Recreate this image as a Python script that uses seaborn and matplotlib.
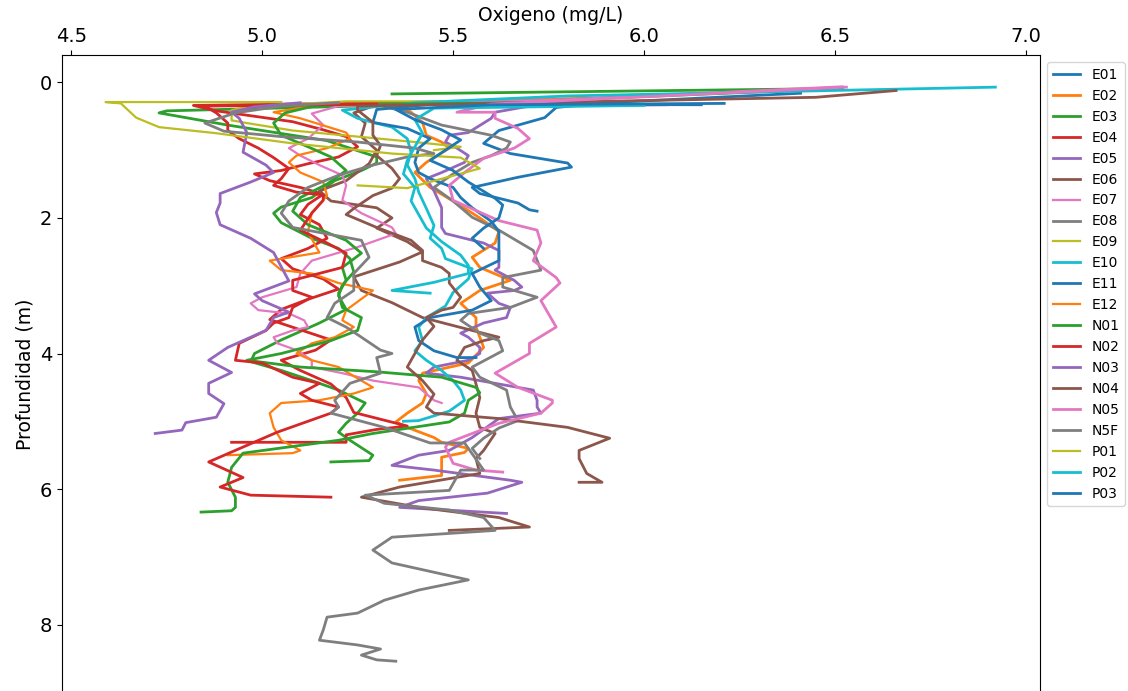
import matplotlib
matplotlib.use("Agg")
import matplotlib.pyplot as plt
import seaborn as sns

# ---------------------------------------------------------------------------
# Perfiles de oxigeno disuelto (mg/L) vs profundidad (m)
# ---------------------------------------------------------------------------

stations = ["E01", "E02", "E03", "E04", "E05", "E06", "E07", "E08", "E09", "E10",
            "E11", "E12", "N01", "N02", "N03", "N04", "N05", "N5F", "P01", "P02", "P03"]

e01_z = [0.16, 0.30, 0.37, 0.52, 0.71, 0.90, 1.05, 1.19, 1.25, 1.40, 1.55, 1.64, 1.78, 1.88, 1.90]
e01_ox = [6.41, 5.90, 5.77, 5.74, 5.62, 5.58, 5.65, 5.80, 5.81, 5.67, 5.55, 5.57, 5.67, 5.70, 5.72]

e02_z = [0.22, 0.30, 0.44, 0.59, 0.78, 0.88, 0.97, 1.18, 1.33, 1.55, 1.75, 2.00, 2.20, 2.37, 2.58,
         2.73, 2.92, 3.07, 3.26, 3.47, 3.61, 3.91, 4.14, 4.29, 4.40, 4.59, 4.73, 4.88, 5.01, 5.09,
         5.24, 5.31, 5.40, 5.46, 5.53, 5.69, 5.80, 5.87]
e02_ox = [5.95, 5.35, 5.39, 5.42, 5.43, 5.47, 5.49, 5.43, 5.40, 5.44, 5.50, 5.57, 5.62, 5.61, 5.55,
          5.57, 5.65, 5.57, 5.52, 5.56, 5.56, 5.58, 5.54, 5.42, 5.41, 5.43, 5.42, 5.38, 5.35, 5.38,
          5.45, 5.47, 5.54, 5.53, 5.47, 5.47, 5.47, 5.36]

e03_z = [0.17, 0.09, 0.30, 0.42, 0.45, 0.63, 0.86, 1.10, 1.19, 1.30, 1.45, 1.70, 1.84, 1.93, 2.07,
         2.30, 2.45, 2.60, 2.80, 2.99, 3.15, 3.35, 3.55, 3.80, 4.00, 4.12, 4.25, 4.40, 4.54, 4.73,
         4.88, 5.03, 5.16, 5.28, 5.50, 5.58, 5.60]
e03_ox = [5.34, 6.52, 5.60, 4.75, 4.73, 4.91, 5.17, 5.30, 5.30, 5.26, 5.19, 5.13, 5.05, 5.03, 5.05,
          5.13, 5.20, 5.23, 5.24, 5.21, 5.20, 5.22, 5.15, 5.05, 4.98, 4.97, 5.05, 5.13, 5.20, 5.27,
          5.25, 5.22, 5.20, 5.23, 5.29, 5.28, 5.18]

e04_z = [0.28, 0.34, 0.42, 0.50, 0.58, 0.70, 0.80, 0.95, 1.10, 1.20, 1.30, 1.35, 1.45, 1.55, 1.65,
         1.80, 1.95, 2.10, 2.30, 2.45, 2.60, 2.75, 2.90, 3.05, 3.20, 3.35, 3.50, 3.65, 3.80, 3.95,
         4.10, 4.25, 4.45, 4.65, 4.87, 5.07, 5.12, 5.20, 5.31, 5.31]
e04_ox = [5.58, 4.82, 4.88, 4.98, 5.08, 5.16, 5.22, 5.25, 5.20, 5.12, 5.05, 4.98, 5.02, 5.10, 5.16,
          5.12, 5.10, 5.15, 5.17, 5.12, 5.05, 5.08, 5.16, 5.20, 5.12, 5.05, 5.02, 5.10, 5.18, 5.14,
          5.05, 5.10, 5.18, 5.22, 5.24, 5.38, 5.30, 5.22, 5.22, 4.92]

e05_z = [0.33, 0.35, 0.44, 0.53, 0.74, 0.78, 0.88, 0.97, 1.08, 1.18, 1.33, 1.42, 1.60, 1.85, 2.14,
         2.23, 2.37, 2.48, 2.73, 2.77, 2.92, 3.02, 3.07, 3.11, 3.26, 3.32, 3.47, 3.55, 3.70, 3.76,
         3.91, 4.00, 4.10, 4.20, 4.29, 4.35, 4.54, 4.69, 4.79, 4.88, 4.96, 5.24, 5.43, 5.50, 5.65,
         5.72, 5.87, 5.90, 6.06, 6.17, 6.27, 6.36]
e05_ox = [6.06, 5.70, 5.61, 5.60, 5.54, 5.49, 5.48, 5.51, 5.54, 5.53, 5.47, 5.43, 5.45, 5.47, 5.47,
          5.48, 5.58, 5.62, 5.62, 5.61, 5.66, 5.68, 5.66, 5.59, 5.62, 5.65, 5.64, 5.58, 5.52, 5.54,
          5.57, 5.57, 5.54, 5.45, 5.43, 5.52, 5.71, 5.72, 5.72, 5.73, 5.62, 5.55, 5.49, 5.41, 5.34,
          5.45, 5.65, 5.68, 5.59, 5.41, 5.36, 5.64]

e06_z = [0.30, 0.33, 0.45, 0.60, 0.80, 1.00, 1.20, 1.45, 1.60, 1.75, 1.85, 2.00, 2.15, 2.35, 2.50,
         2.65, 2.87, 3.07, 3.25, 3.47, 3.66, 3.76, 3.81, 3.91, 4.10, 4.25, 4.45, 4.65, 4.88, 5.09,
         5.18, 5.43, 5.55, 5.77, 5.97, 6.12, 6.27, 6.42, 6.56, 6.61]
e06_ox = [5.60, 5.30, 5.24, 5.27, 5.26, 5.30, 5.28, 5.22, 5.15, 5.18, 5.30, 5.34, 5.30, 5.38, 5.42,
          5.36, 5.24, 5.26, 5.34, 5.42, 5.55, 5.62, 5.58, 5.53, 5.51, 5.55, 5.56, 5.57, 5.56, 5.57,
          5.61, 5.58, 5.56, 5.57, 5.36, 5.26, 5.41, 5.62, 5.70, 5.49]

e07_z = [0.06, 0.25, 0.35, 0.46, 0.63, 0.83, 0.97, 1.08, 1.22, 1.37, 1.52, 1.74, 1.93, 2.14, 2.23,
         2.33, 2.43, 2.63, 2.82, 3.02, 3.17, 3.26, 3.36, 3.41, 3.51, 3.61, 3.66, 3.76, 3.85, 3.95,
         4.10, 4.20, 4.29, 4.40, 4.50, 4.69, 4.73]
e07_ox = [6.52, 5.80, 5.20, 5.13, 5.16, 5.12, 5.07, 5.10, 5.15, 5.21, 5.22, 5.21, 5.26, 5.34, 5.35,
          5.30, 5.25, 5.13, 5.10, 5.09, 5.00, 4.97, 4.99, 5.07, 5.11, 5.12, 5.08, 5.03, 5.04, 5.09,
          5.13, 5.13, 5.21, 5.29, 5.41, 5.45, 5.47]

e08_z = [0.30, 0.33, 0.44, 0.63, 0.78, 0.88, 0.97, 1.08, 1.18, 1.35, 1.55, 1.75, 1.99, 2.18, 2.48,
         2.77, 2.88, 3.02, 3.17, 3.32, 3.41, 3.51, 3.70, 3.81, 3.96, 4.20, 4.35, 4.54, 4.79, 4.99,
         5.10, 5.25, 5.40, 5.55]
e08_ox = [5.70, 5.30, 5.38, 5.47, 5.60, 5.65, 5.64, 5.60, 5.55, 5.50, 5.45, 5.50, 5.55, 5.62, 5.71,
          5.73, 5.63, 5.63, 5.72, 5.65, 5.54, 5.52, 5.57, 5.62, 5.63, 5.55, 5.57, 5.64, 5.65, 5.67,
          5.62, 5.58, 5.55, 5.57]

e09_z = [0.28, 0.28, 0.36, 0.41, 0.56, 0.60, 0.71, 0.80, 0.88, 0.95, 1.00]
e09_ox = [5.50, 5.22, 4.96, 4.92, 4.92, 4.96, 5.08, 5.25, 5.40, 5.52, 5.45]

e10_z = [0.07, 0.20, 0.30, 0.41, 0.53, 0.59, 0.66, 0.83, 1.03, 1.22, 1.42, 1.62, 1.86, 2.11, 2.30,
         2.45, 2.60, 2.75, 2.90, 3.10, 3.30, 3.47, 3.61, 3.81, 3.96, 4.10, 4.25, 4.40, 4.54, 4.69,
         4.85, 4.99, 5.00]
e10_ox = [6.92, 5.80, 5.40, 5.21, 5.25, 5.29, 5.34, 5.38, 5.39, 5.38, 5.40, 5.41, 5.43, 5.45, 5.44,
          5.47, 5.48, 5.55, 5.54, 5.50, 5.48, 5.43, 5.41, 5.42, 5.40, 5.43, 5.47, 5.50, 5.52, 5.53,
          5.49, 5.41, 5.37]

e11_z = [0.33, 0.32, 0.40, 0.59, 0.68, 0.83, 0.97, 1.18, 1.33, 1.42, 1.55, 1.70, 1.85, 2.05, 2.20,
         2.37, 2.63, 2.82, 3.02, 3.22, 3.36, 3.47, 3.61, 3.81, 3.96, 4.06, 4.06]
e11_ox = [6.15, 5.45, 5.30, 5.29, 5.38, 5.44, 5.41, 5.40, 5.41, 5.44, 5.50, 5.52, 5.55, 5.60, 5.62,
          5.62, 5.62, 5.55, 5.57, 5.60, 5.55, 5.44, 5.40, 5.41, 5.45, 5.51, 5.56]

e12_z = [0.33, 0.44, 0.53, 0.74, 0.83, 0.97, 1.08, 1.18, 1.33, 1.47, 1.67, 1.92, 2.21, 2.51, 2.63,
         2.77, 2.82, 2.96, 3.07, 3.36, 3.51, 3.61, 3.76, 3.85, 4.00, 4.10, 4.20, 4.50, 4.59, 4.69,
         4.73, 4.88, 5.09, 5.28, 5.43, 5.47, 5.50]
e12_ox = [5.15, 5.03, 5.10, 5.22, 5.23, 5.17, 5.09, 5.07, 5.10, 5.16, 5.17, 5.13, 5.12, 5.15, 5.02,
          5.05, 5.13, 5.20, 5.29, 5.22, 5.21, 5.24, 5.19, 5.13, 5.09, 5.13, 5.20, 5.29, 5.24, 5.15,
          5.05, 5.02, 5.03, 5.05, 5.10, 5.08, 4.91]

n01_z = [0.30, 0.33, 0.45, 0.60, 0.78, 0.95, 1.10, 1.30, 1.50, 1.70, 1.90, 2.10, 2.33, 2.52, 2.73,
         2.92, 3.11, 3.32, 3.47, 3.66, 3.81, 4.00, 4.10, 4.20, 4.27, 4.35, 4.50, 4.58, 4.69, 4.88,
         5.01, 5.18, 5.28, 5.47, 5.68, 5.90, 6.12, 6.27, 6.32, 6.34]
n01_ox = [5.72, 5.15, 5.06, 5.03, 5.05, 5.12, 5.18, 5.22, 5.17, 5.10, 5.08, 5.12, 5.22, 5.26, 5.21,
          5.22, 5.20, 5.21, 5.26, 5.25, 5.18, 5.05, 4.96, 5.10, 5.30, 5.47, 5.56, 5.57, 5.54, 5.53,
          5.49, 5.29, 5.20, 4.95, 4.92, 4.91, 4.93, 4.93, 4.92, 4.84]

n02_z = [0.32, 0.35, 0.45, 0.60, 0.71, 0.83, 0.97, 1.11, 1.27, 1.42, 1.52, 1.62, 1.66, 1.74, 1.93,
         2.18, 2.37, 2.52, 2.73, 2.92, 3.07, 3.17, 3.32, 3.47, 3.55, 3.66, 3.85, 4.10, 4.14, 4.35,
         4.44, 4.59, 4.69, 4.79, 4.88, 5.16, 5.60, 5.83, 5.97, 6.09, 6.12]
n02_ox = [5.30, 4.85, 4.88, 4.91, 4.91, 4.94, 4.99, 5.03, 5.07, 5.05, 5.03, 5.09, 5.16, 5.16, 5.13,
          5.10, 5.17, 5.22, 5.21, 5.08, 5.08, 5.13, 5.08, 5.07, 5.03, 5.01, 4.94, 4.93, 5.00, 5.08,
          5.15, 5.10, 5.13, 5.20, 5.18, 5.04, 4.86, 4.95, 4.89, 4.97, 5.18]

n03_z = [0.30, 0.36, 0.44, 0.53, 0.74, 1.03, 1.22, 1.33, 1.47, 1.64, 1.78, 1.92, 2.10, 2.30, 2.51,
         2.93, 3.12, 3.22, 3.39, 3.47, 3.66, 3.91, 4.10, 4.28, 4.44, 4.59, 4.74, 4.94, 5.02, 5.13,
         5.18]
n03_ox = [5.10, 4.98, 4.92, 4.94, 4.96, 4.95, 5.01, 5.03, 4.97, 4.89, 4.89, 4.88, 4.89, 4.97, 5.03,
          5.07, 4.98, 5.00, 5.07, 5.03, 5.01, 4.91, 4.86, 4.92, 4.86, 4.86, 4.90, 4.88, 4.80, 4.79,
          4.72]

n04_z = [0.12, 0.22, 0.30, 0.35, 0.41, 0.59, 0.78, 0.93, 1.08, 1.27, 1.42, 1.56, 1.67, 1.86, 1.95,
         2.14, 2.33, 2.48, 2.63, 2.73, 2.82, 2.96, 3.17, 3.32, 3.36, 3.47, 3.60, 3.80, 4.00, 4.20,
         4.40, 4.60, 4.79, 4.88, 4.96, 5.09, 5.25, 5.43, 5.55, 5.77, 5.90, 5.90]
n04_ox = [6.66, 6.45, 5.70, 5.25, 5.25, 5.29, 5.29, 5.31, 5.30, 5.34, 5.36, 5.34, 5.29, 5.24, 5.22,
          5.30, 5.39, 5.42, 5.42, 5.47, 5.49, 5.49, 5.52, 5.50, 5.47, 5.43, 5.45, 5.42, 5.40, 5.38,
          5.42, 5.45, 5.43, 5.45, 5.62, 5.80, 5.91, 5.83, 5.83, 5.85, 5.89, 5.83]

n05_z = [0.07, 0.32, 0.44, 0.44, 0.53, 0.68, 0.83, 0.97, 1.12, 1.33, 1.52, 1.74, 2.04, 2.18, 2.37,
         2.63, 2.88, 2.96, 3.22, 3.61, 3.85, 4.00, 4.29, 4.50, 4.69, 4.73, 4.88, 5.03, 5.18, 5.31,
         5.38, 5.62, 5.72, 5.75]
n05_ox = [6.53, 5.60, 5.51, 5.61, 5.61, 5.67, 5.70, 5.66, 5.58, 5.53, 5.49, 5.50, 5.62, 5.72, 5.73,
          5.71, 5.77, 5.78, 5.73, 5.77, 5.70, 5.70, 5.61, 5.67, 5.76, 5.76, 5.73, 5.62, 5.55, 5.49,
          5.48, 5.50, 5.56, 5.63]

n5f_z = [0.30, 0.35, 0.45, 0.60, 0.72, 0.80, 0.88, 0.97, 1.05, 1.10, 1.22, 1.37, 1.55, 1.75, 1.93,
         2.14, 2.33, 2.58, 2.82, 3.07, 3.26, 3.47, 3.61, 3.76, 3.95, 4.00, 4.06, 4.29, 4.44, 4.69,
         4.79, 4.88, 5.09, 5.32, 5.32, 5.72, 5.72, 6.02, 6.09, 6.21, 6.31, 6.42, 6.61, 6.71, 6.90,
         7.09, 7.34, 7.49, 7.64, 7.83, 7.89, 8.08, 8.23, 8.30, 8.36, 8.45, 8.52, 8.54]
n5f_ox = [5.20, 5.05, 4.93, 4.85, 4.90, 5.05, 5.25, 5.40, 5.45, 5.38, 5.29, 5.20, 5.12, 5.07, 5.05,
          5.08, 5.26, 5.28, 5.24, 5.24, 5.19, 5.17, 5.22, 5.26, 5.31, 5.34, 5.30, 5.31, 5.23, 5.19,
          5.20, 5.18, 5.32, 5.44, 5.53, 5.58, 5.52, 5.49, 5.27, 5.32, 5.49, 5.58, 5.61, 5.34, 5.29,
          5.34, 5.54, 5.41, 5.32, 5.25, 5.17, 5.16, 5.15, 5.25, 5.31, 5.26, 5.30, 5.35]

p01_z = [0.29, 0.29, 0.31, 0.52, 0.66, 0.75, 0.90, 1.05, 1.11, 1.27, 1.56, 1.52]
p01_ox = [5.05, 4.59, 4.63, 4.67, 4.73, 4.88, 5.08, 5.34, 5.52, 5.57, 5.38, 5.25]

p02_z = [0.34, 0.38, 0.55, 0.75, 0.95, 1.15, 1.35, 1.55, 1.75, 1.95, 2.15, 2.35, 2.55, 2.70, 2.82,
         2.95, 3.07, 3.11]
p02_ox = [6.00, 5.45, 5.40, 5.42, 5.40, 5.38, 5.37, 5.40, 5.39, 5.41, 5.43, 5.47, 5.52, 5.54, 5.54,
          5.45, 5.34, 5.44]

p03_z = [0.31, 0.33, 0.40, 0.55, 0.70, 0.85, 1.00, 1.15, 1.30, 1.47, 1.71, 1.81, 2.00, 2.15, 2.30,
         2.45]
p03_ox = [6.21, 5.60, 5.35, 5.40, 5.47, 5.52, 5.48, 5.44, 5.50, 5.54, 5.61, 5.63, 5.62, 5.58, 5.55,
          5.58]

profiles = [
    (e01_ox, e01_z), (e02_ox, e02_z), (e03_ox, e03_z), (e04_ox, e04_z), (e05_ox, e05_z),
    (e06_ox, e06_z), (e07_ox, e07_z), (e08_ox, e08_z), (e09_ox, e09_z), (e10_ox, e10_z),
    (e11_ox, e11_z), (e12_ox, e12_z), (n01_ox, n01_z), (n02_ox, n02_z), (n03_ox, n03_z),
    (n04_ox, n04_z), (n05_ox, n05_z), (n5f_ox, n5f_z), (p01_ox, p01_z), (p02_ox, p02_z),
    (p03_ox, p03_z),
]

# estaciones trazadas con linea mas fina
thin = {"E07", "E09", "E12", "P01"}

# ---------------------------------------------------------------------------
# Figura
# ---------------------------------------------------------------------------
palette = sns.color_palette("tab10", 10)

fig = plt.figure(figsize=(11.28, 6.91), dpi=100)
ax = fig.add_axes([0.055, -0.003, 0.867, 0.923])

for i, (name, (ox, z)) in enumerate(zip(stations, profiles)):
    sns.lineplot(
        x=ox,
        y=z,
        sort=False,
        estimator=None,
        color=palette[i % 10],
        linewidth=1.6 if name in thin else 2.0,
        label=name,
        ax=ax,
    )

ax.set_xlim(4.476, 7.037)
ax.set_ylim(9.01, -0.4)
ax.xaxis.tick_top()
ax.xaxis.set_label_position("top")
ax.set_xticks([4.5, 5.0, 5.5, 6.0, 6.5, 7.0])
ax.set_yticks([0, 2, 4, 6, 8])
ax.tick_params(labelsize=14)
ax.set_xlabel("Oxigeno (mg/L)", fontsize=13.5)
ax.set_ylabel("Profundidad (m)", fontsize=13.5)

ax.legend(loc="upper left", bbox_to_anchor=(1.0, 1.0), fontsize=10)

fig.savefig("out.png", dpi=100)
